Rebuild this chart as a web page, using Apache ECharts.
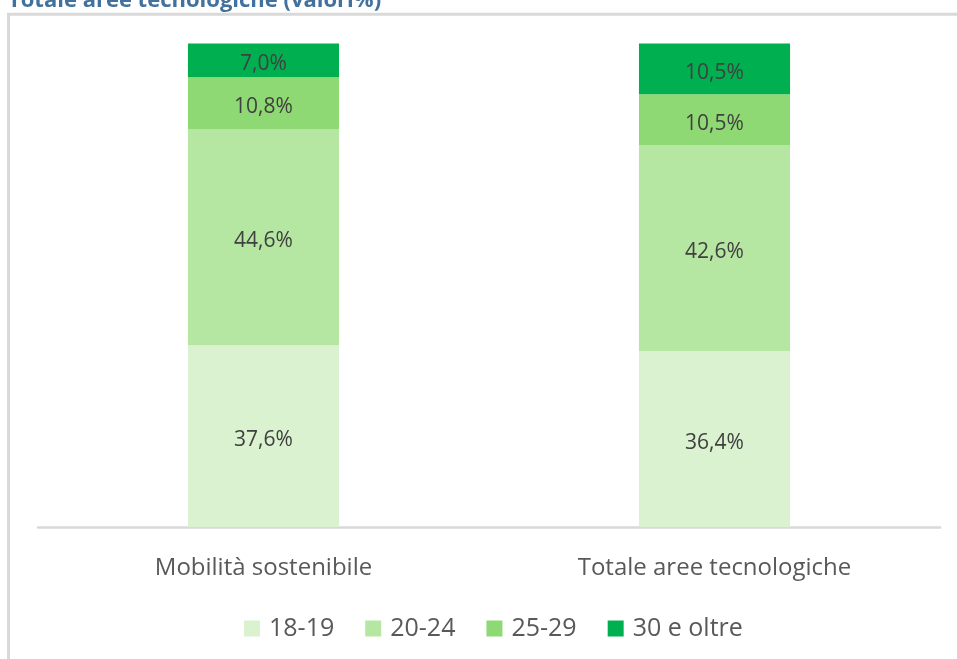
<!DOCTYPE html>
<html>
<head>
<meta charset="utf-8">
<script src="https://cdn.jsdelivr.net/npm/echarts@6/dist/echarts.min.js"></script>
<style>
html,body{margin:0;padding:0;background:#fff;}
#chart{width:957px;height:659px;}
</style>
</head>
<body>
<div id="chart"></div>
<script>
var categories = ['Mobilità sostenibile', 'Totale aree tecnologiche'];
var seriesNames = ['18-19', '20-24', '25-29', '30 e oltre'];
var v18_19 = [37.6, 36.4];
var v20_24 = [44.6, 42.6];
var v25_29 = [10.8, 10.5];
var v30plus = [7.0, 10.5];
var seriesValues = [v18_19, v20_24, v25_29, v30plus];
var colors = ['#daf2d0', '#b5e6a2', '#8ed973', '#00b050'];
var titleText = 'Totale aree tecnologiche (valori%)';

var FONT = "'Open Sans', sans-serif";

var chart = echarts.init(document.getElementById('chart'), null, {renderer: 'canvas'});

var series = seriesNames.map(function (name, i) {
  return {
    name: name,
    type: 'bar',
    stack: 'total',
    barWidth: '33.5%',
    data: seriesValues[i],
    itemStyle: {color: colors[i]},
    label: {
      show: true,
      position: 'inside',
      offset: [0, 4],
      color: '#404040',
      fontFamily: FONT,
      fontSize: 21,
      formatter: function (p) { return p.value.toFixed(1).replace('.', ',') + '%'; }
    },
    emphasis: {disabled: true}
  };
});

chart.setOption({
  animation: false,
  backgroundColor: '#ffffff',
  grid: {left: 38, right: 17, top: 43.5, bottom: 132, containLabel: false},
  xAxis: {
    type: 'category',
    data: categories,
    axisLine: {show: true, lineStyle: {color: '#d9d9d9', width: 2.5}},
    axisTick: {show: false},
    axisLabel: {
      color: '#595959',
      fontFamily: FONT,
      fontSize: 24,
      margin: 41,
      verticalAlign: 'middle'
    }
  },
  yAxis: {
    type: 'value',
    min: 0,
    max: 100,
    show: false,
    splitLine: {show: false}
  },
  legend: {
    data: seriesNames,
    left: 239,
    top: 611,
    itemWidth: 16,
    itemHeight: 16,
    itemGap: 31,
    icon: 'rect',
    textStyle: {color: '#595959', fontFamily: FONT, fontSize: 25, padding: [0, 0, 0, 4]}
  },
  graphic: [
    {
      type: 'rect',
      silent: true,
      shape: {x: 8.5, y: 14.3, width: 1100, height: 800},
      style: {fill: 'none', stroke: '#d9d9d9', lineWidth: 3}
    },
    {
      type: 'text',
      silent: true,
      x: 8,
      y: 1,
      style: {
        text: titleText,
        font: 'bold 22px ' + FONT,
        fill: '#41719c',
        verticalAlign: 'middle',
        align: 'left'
      }
    }
  ],
  series: series
});
</script>
</body>
</html>
